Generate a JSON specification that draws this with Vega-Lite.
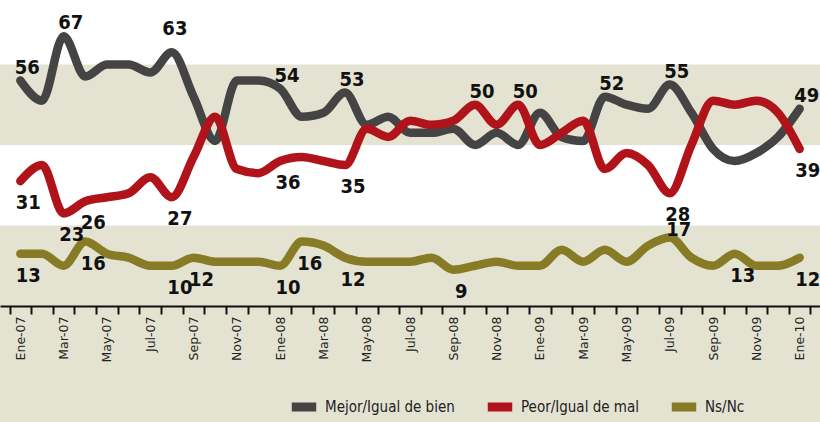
{
  "$schema": "https://vega.github.io/schema/vega-lite/v6.json",
  "width": 820,
  "height": 306,
  "autosize": {"type": "none"},
  "padding": {"left": 0, "top": 0, "right": 0, "bottom": 116},
  "background": "#e4e3d2",
  "config": {"view": {"stroke": null}},
  "datasets": {
    "bands": [{"lo": 20, "hi": 40}, {"lo": 60, "hi": 76}],
    "poll": [
      {"month": "Ene-07", "Mejor/Igual de bien": 56, "Peor/Igual de mal": 31, "Ns/Nc": 13},
      {"month": "Feb-07", "Mejor/Igual de bien": 51, "Peor/Igual de mal": 35, "Ns/Nc": 13},
      {"month": "Mar-07", "Mejor/Igual de bien": 67, "Peor/Igual de mal": 23, "Ns/Nc": 10},
      {"month": "Abr-07", "Mejor/Igual de bien": 57, "Peor/Igual de mal": 26, "Ns/Nc": 16},
      {"month": "May-07", "Mejor/Igual de bien": 60, "Peor/Igual de mal": 27, "Ns/Nc": 13},
      {"month": "Jun-07", "Mejor/Igual de bien": 60, "Peor/Igual de mal": 28, "Ns/Nc": 12},
      {"month": "Jul-07", "Mejor/Igual de bien": 58, "Peor/Igual de mal": 32, "Ns/Nc": 10},
      {"month": "Ago-07", "Mejor/Igual de bien": 63, "Peor/Igual de mal": 27, "Ns/Nc": 10},
      {"month": "Sep-07", "Mejor/Igual de bien": 52, "Peor/Igual de mal": 37, "Ns/Nc": 12},
      {"month": "Oct-07", "Mejor/Igual de bien": 41, "Peor/Igual de mal": 47, "Ns/Nc": 11},
      {"month": "Nov-07", "Mejor/Igual de bien": 56, "Peor/Igual de mal": 34, "Ns/Nc": 11},
      {"month": "Dic-07", "Mejor/Igual de bien": 56, "Peor/Igual de mal": 33, "Ns/Nc": 11},
      {"month": "Ene-08", "Mejor/Igual de bien": 54, "Peor/Igual de mal": 36, "Ns/Nc": 10},
      {"month": "Feb-08", "Mejor/Igual de bien": 47, "Peor/Igual de mal": 37, "Ns/Nc": 16},
      {"month": "Mar-08", "Mejor/Igual de bien": 48, "Peor/Igual de mal": 36, "Ns/Nc": 15},
      {"month": "Abr-08", "Mejor/Igual de bien": 53, "Peor/Igual de mal": 35, "Ns/Nc": 12},
      {"month": "May-08", "Mejor/Igual de bien": 45, "Peor/Igual de mal": 44, "Ns/Nc": 11},
      {"month": "Jun-08", "Mejor/Igual de bien": 47, "Peor/Igual de mal": 42, "Ns/Nc": 11},
      {"month": "Jul-08", "Mejor/Igual de bien": 43, "Peor/Igual de mal": 46, "Ns/Nc": 11},
      {"month": "Ago-08", "Mejor/Igual de bien": 43, "Peor/Igual de mal": 45, "Ns/Nc": 12},
      {"month": "Sep-08", "Mejor/Igual de bien": 44, "Peor/Igual de mal": 46, "Ns/Nc": 9},
      {"month": "Oct-08", "Mejor/Igual de bien": 40, "Peor/Igual de mal": 50, "Ns/Nc": 10},
      {"month": "Nov-08", "Mejor/Igual de bien": 43, "Peor/Igual de mal": 45, "Ns/Nc": 11},
      {"month": "Dic-08", "Mejor/Igual de bien": 40, "Peor/Igual de mal": 50, "Ns/Nc": 10},
      {"month": "Ene-09", "Mejor/Igual de bien": 48, "Peor/Igual de mal": 40, "Ns/Nc": 10},
      {"month": "Feb-09", "Mejor/Igual de bien": 42, "Peor/Igual de mal": 43, "Ns/Nc": 14},
      {"month": "Mar-09", "Mejor/Igual de bien": 41, "Peor/Igual de mal": 46, "Ns/Nc": 11},
      {"month": "Abr-09", "Mejor/Igual de bien": 52, "Peor/Igual de mal": 34, "Ns/Nc": 14},
      {"month": "May-09", "Mejor/Igual de bien": 50, "Peor/Igual de mal": 38, "Ns/Nc": 11},
      {"month": "Jun-09", "Mejor/Igual de bien": 49, "Peor/Igual de mal": 35, "Ns/Nc": 15},
      {"month": "Jul-09", "Mejor/Igual de bien": 55, "Peor/Igual de mal": 28, "Ns/Nc": 17},
      {"month": "Ago-09", "Mejor/Igual de bien": 48, "Peor/Igual de mal": 40, "Ns/Nc": 12},
      {"month": "Sep-09", "Mejor/Igual de bien": 39, "Peor/Igual de mal": 51, "Ns/Nc": 10},
      {"month": "Oct-09", "Mejor/Igual de bien": 36, "Peor/Igual de mal": 50, "Ns/Nc": 13},
      {"month": "Nov-09", "Mejor/Igual de bien": 38, "Peor/Igual de mal": 51, "Ns/Nc": 10},
      {"month": "Dic-09", "Mejor/Igual de bien": 42, "Peor/Igual de mal": 48, "Ns/Nc": 10},
      {"month": "Ene-10", "Mejor/Igual de bien": 49, "Peor/Igual de mal": 39, "Ns/Nc": 12}
    ]
  },
  "layer": [
    {
      "data": {"name": "bands"},
      "mark": {"type": "rect", "fill": "white"},
      "encoding": {
        "y": {"field": "lo", "type": "quantitative", "scale": {"domain": [0, 76], "nice": false, "zero": true}, "axis": null},
        "y2": {"field": "hi"}
      }
    },
    {
      "data": {"name": "poll"},
      "transform": [
        {"fold": ["Mejor/Igual de bien", "Peor/Igual de mal", "Ns/Nc"], "as": ["series", "value"]}
      ],
      "encoding": {
        "x": {
          "field": "month", "type": "ordinal", "sort": null,
          "scale": {"type": "band", "paddingInner": 0, "paddingOuter": 0.44},
          "axis": {
            "title": null, "grid": false,
            "labelAngle": 270, "labelAlign": "right", "labelBaseline": "middle",
            "labelFont": "DejaVu Sans", "labelFontSize": 12.5, "labelColor": "#222",
            "labelPadding": 2, "tickBand": "extent", "tickSize": 8, "tickWidth": 2,
            "tickColor": "#111", "domainColor": "#111", "domainWidth": 2,
            "labelExpr": "indexof(['Ene','Mar','May','Jul','Sep','Nov'], slice(datum.label,0,3)) >= 0 ? datum.label : ''"
          }
        },
        "y": {"field": "value", "type": "quantitative", "scale": {"domain": [0, 76], "nice": false, "zero": true}, "axis": null}
      },
      "layer": [
        {
          "transform": [{"filter": "datum.series == 'Ns/Nc'"}],
          "mark": {"type": "line", "strokeWidth": 8.5, "strokeCap": "round", "strokeJoin": "round", "interpolate": "monotone"},
          "encoding": {
            "color": {"field": "series", "type": "nominal",
              "scale": {"domain": ["Mejor/Igual de bien", "Peor/Igual de mal", "Ns/Nc"], "range": ["#444444", "#b01319", "#877c25"]},
              "legend": {
                "orient": "none", "legendX": 287, "legendY": 390, "direction": "horizontal", "title": null,
                "symbolType": "stroke", "symbolStrokeWidth": 9, "symbolSize": 600,
                "labelFont": "DejaVu Sans Condensed", "labelFontSize": 15, "labelColor": "#222",
                "labelOffset": 4, "columnPadding": 14
              }
            }
          }
        },
        {
          "transform": [{"filter": "datum.series == 'Mejor/Igual de bien'"}],
          "mark": {"type": "line", "strokeWidth": 8.5, "strokeCap": "round", "strokeJoin": "round", "interpolate": "monotone"},
          "encoding": {"color": {"field": "series", "type": "nominal"}}
        },
        {
          "transform": [{"filter": "datum.series == 'Peor/Igual de mal'"}],
          "mark": {"type": "line", "strokeWidth": 8.5, "strokeCap": "round", "strokeJoin": "round", "interpolate": "monotone"},
          "encoding": {"color": {"field": "series", "type": "nominal"}}
        },
        {
          "transform": [{"filter": "(datum.series == 'Mejor/Igual de bien' && indexof(['Ene-07','Mar-07','Ene-08','Abr-08','Abr-09','Jul-09','Ene-10'], datum.month) >= 0) || (datum.series == 'Peor/Igual de mal' && indexof(['Oct-08','Dic-08'], datum.month) >= 0)"}],
          "mark": {"type": "text", "font": "DejaVu Sans Condensed", "fontWeight": "bold", "fontSize": 20, "color": "#111", "dx": 7, "dy": -13, "baseline": "middle", "align": "center"},
          "encoding": {"text": {"field": "value", "type": "quantitative"}}
        },
        {
          "transform": [{"filter": "(datum.series == 'Mejor/Igual de bien' && datum.month == 'Ago-07')"}],
          "mark": {"type": "text", "font": "DejaVu Sans Condensed", "fontWeight": "bold", "fontSize": 20, "color": "#111", "dx": 3, "dy": -23, "baseline": "middle", "align": "center"},
          "encoding": {"text": {"field": "value", "type": "quantitative"}}
        },
        {
          "transform": [{"filter": "(datum.series == 'Ns/Nc' && datum.month == 'Jul-09')"}],
          "mark": {"type": "text", "font": "DejaVu Sans Condensed", "fontWeight": "bold", "fontSize": 20, "color": "#111", "dx": 9, "dy": -8, "baseline": "middle", "align": "center"},
          "encoding": {"text": {"field": "value", "type": "quantitative"}}
        },
        {
          "transform": [{"filter": "(datum.series == 'Peor/Igual de mal' && indexof(['Ene-07','Mar-07','Abr-07','Ago-07','Ene-08','Abr-08','Jul-09','Ene-10'], datum.month) >= 0) || (datum.series == 'Ns/Nc' && indexof(['Ene-07','Abr-07','Ago-07','Sep-07','Ene-08','Feb-08','Abr-08','Sep-08','Oct-09','Ene-10'], datum.month) >= 0)"}],
          "mark": {"type": "text", "font": "DejaVu Sans Condensed", "fontWeight": "bold", "fontSize": 20, "color": "#111", "dx": 8, "dy": 22, "baseline": "middle", "align": "center"},
          "encoding": {"text": {"field": "value", "type": "quantitative"}}
        }
      ]
    }
  ]
}
